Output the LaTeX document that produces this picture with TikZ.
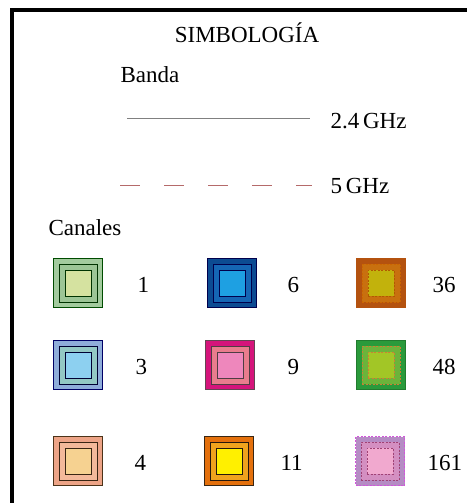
\documentclass[tikz,border=0pt]{standalone}
\usepackage{fontspec}
\setmainfont{Liberation Serif}
\definecolor{verdeA}{HTML}{A3CB9E}
\definecolor{verdeB}{HTML}{9CC596}
\definecolor{verdeC}{HTML}{D5E2A0}
\definecolor{azulA}{HTML}{0C4B92}
\definecolor{azulB}{HTML}{1566B4}
\definecolor{azulC}{HTML}{1EA0E2}
\definecolor{ocreA}{HTML}{B4520F}
\definecolor{ocreB}{HTML}{C8700F}
\definecolor{ocreC}{HTML}{C2B20C}
\definecolor{celesteA}{HTML}{8FADDA}
\definecolor{celesteB}{HTML}{93C8C4}
\definecolor{celesteC}{HTML}{8DD0F0}
\definecolor{magentaA}{HTML}{D5147B}
\definecolor{magentaB}{HTML}{E97C8D}
\definecolor{magentaC}{HTML}{EE87BC}
\definecolor{pastoA}{HTML}{2A9A3B}
\definecolor{pastoB}{HTML}{6BB43B}
\definecolor{pastoC}{HTML}{A2C626}
\definecolor{salmonA}{HTML}{EDA487}
\definecolor{salmonB}{HTML}{F3B99A}
\definecolor{salmonC}{HTML}{F6D291}
\definecolor{naranjaA}{HTML}{E4700C}
\definecolor{naranjaB}{HTML}{F0A31D}
\definecolor{naranjaC}{HTML}{FFF000}
\definecolor{lilaA}{HTML}{B58CC4}
\definecolor{lilaB}{HTML}{D48FC1}
\definecolor{lilaC}{HTML}{F1A9CF}
\definecolor{banda5}{HTML}{B56A6A}
\begin{document}
\begin{tikzpicture}[x=1pt, y=-1pt, line width=1pt,
    txt/.style={anchor=base west, inner sep=0pt, font=\fontsize{23}{27}\selectfont},
    num/.style={txt},
    outer box/.style={draw=#1, rectangle, minimum size=49pt, inner sep=0pt},
    mid box/.style={draw=#1, rectangle, minimum size=38pt, inner sep=0pt},
    inner box/.style={draw=#1, rectangle, minimum size=26pt, inner sep=0pt},
    fine dash/.style={dash pattern=on 2pt off 1.5pt}]
    \useasboundingbox (0,0) rectangle (467,503);
    % marco
    \fill (10,8) rectangle (467,12);
    \fill (10,8) rectangle (14,503);

    \node[anchor=base, inner sep=0pt, font=\fontsize{23}{27}\selectfont] (titulo) at (247,43) {SIMBOLOGÍA};
    \node[txt] (banda) at (120,82) {Banda};

    \coordinate (l24a) at (127,118);
    \coordinate (l24b) at (310,118);
    \draw[gray, line width=0.8pt] (l24a) -- (l24b);
    \node[txt] (t24) at (330,128) {2.4\,GHz};

    \coordinate (l5a) at (120,185);
    \coordinate (l5b) at (312,185);
    \draw[banda5, line width=0.8pt, dash pattern=on 20pt off 24pt] (l5a) -- (l5b);
    \node[txt] (t5) at (330,193) {5\,GHz};

    \node[txt] (canales) at (48,235) {Canales};

    % columna 1
    \node[outer box=black!70!green, fill=verdeA] (c1) at (78,283) {};
    \node[mid box=black!80!green, fill=verdeB] at (c1) {};
    \node[inner box=black!80!green, fill=verdeC] at (c1) {};
    \node[num] (n1) at (137,292) {1};

    \node[outer box=black!60!blue, fill=celesteA] (c3) at (78,365) {};
    \node[mid box=black!80!blue, fill=celesteB] at (c3) {};
    \node[inner box=black!80!blue, fill=celesteC] at (c3) {};
    \node[num] (n3) at (135,374) {3};

    \node[outer box=black!60!brown, fill=salmonA] (c4) at (78,461) {};
    \node[mid box=black!70!brown, fill=salmonB] at (c4) {};
    \node[inner box=black!70!brown, fill=salmonC] at (c4) {};
    \node[num] (n4) at (134,470) {4};

    % columna 2
    \node[outer box=black!70!blue, fill=azulA] (c6) at (232,283) {};
    \node[mid box=black!70!blue, fill=azulB] at (c6) {};
    \node[inner box=black!70!blue, fill=azulC] at (c6) {};
    \node[num] (n6) at (287,292) {6};

    \node[outer box=black!70!magenta, fill=magentaA] (c9) at (230,365) {};
    \node[mid box=black!80!magenta, fill=magentaB] at (c9) {};
    \node[inner box=black!80!magenta, fill=magentaC] at (c9) {};
    \node[num] (n9) at (287,374) {9};

    \node[outer box=black!70!brown, fill=naranjaA] (c11) at (229,461) {};
    \node[mid box=black!80!brown, fill=naranjaB] at (c11) {};
    \node[inner box=black!80!brown, fill=naranjaC] at (c11) {};
    \node[num] (n11) at (280,470) {11};

    % columna 3 (5 GHz)
    \node[outer box=ocreA, fill=ocreA] (c36) at (381,283) {};
    \node[mid box=orange!80!black, fine dash, fill=ocreB] at (c36) {};
    \node[inner box=orange!70!black, fine dash, fill=ocreC] at (c36) {};
    \node[num] (n36) at (432,292) {36};

    \node[outer box=pastoA!80!black, fill=pastoA] (c48) at (381,365) {};
    \node[mid box=brown!80!orange, fine dash, fill=pastoB] at (c48) {};
    \node[inner box=brown!80!orange, fine dash, fill=pastoC] at (c48) {};
    \node[num] (n48) at (432,374) {48};

    \node[outer box=lilaA!60!magenta, fine dash, fill=lilaA] (c161) at (380,461) {};
    \node[mid box=magenta!60!black, fine dash, fill=lilaB] at (c161) {};
    \node[inner box=magenta!60!black, fine dash, fill=lilaC] at (c161) {};
    \node[num] (n161) at (427,470) {161};
\end{tikzpicture}
\end{document}
